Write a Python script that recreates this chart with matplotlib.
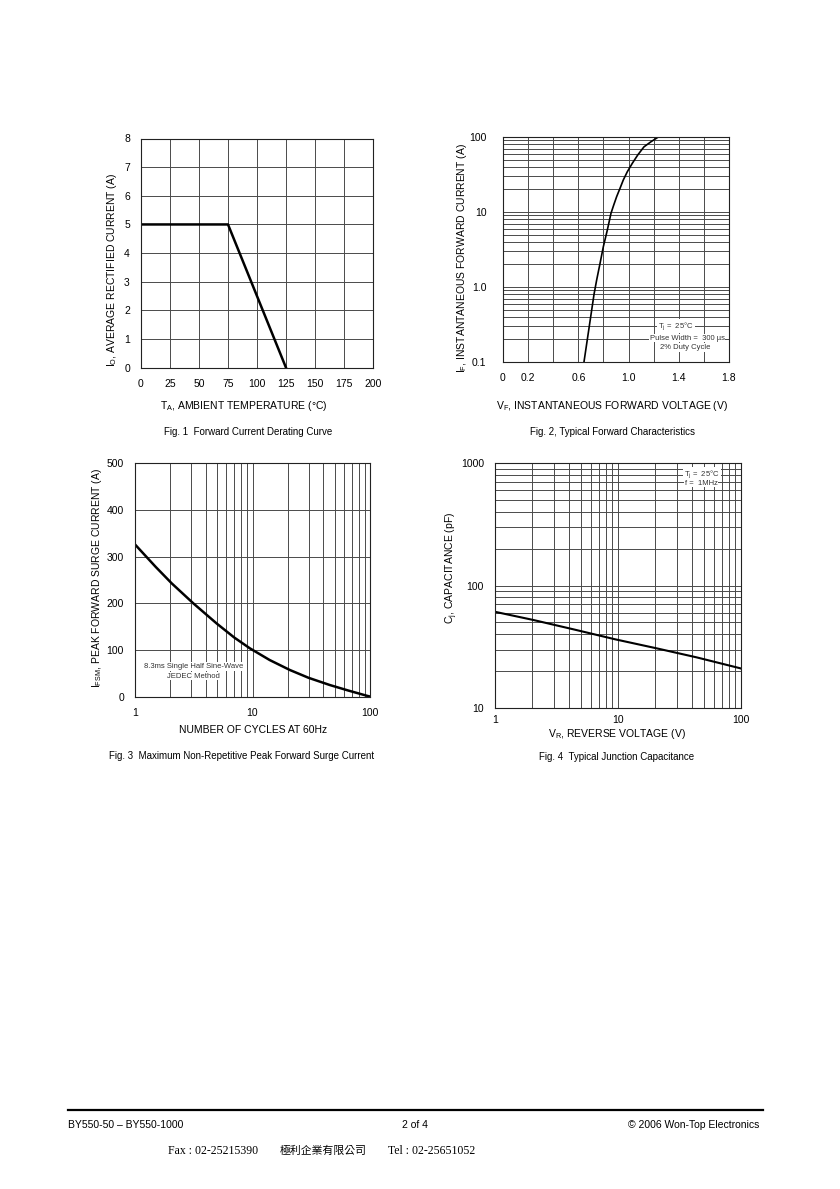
import matplotlib
matplotlib.use("Agg")
import matplotlib.pyplot as plt
from matplotlib.lines import Line2D
from matplotlib.ticker import FixedLocator, NullFormatter, LogLocator

plt.rcParams['font.family'] = ['Liberation Sans', 'DejaVu Sans']
plt.rcParams['mathtext.fontset'] = 'custom'
plt.rcParams['mathtext.rm'] = 'Liberation Sans'
plt.rcParams['mathtext.it'] = 'Liberation Sans'

# Fig. 1 derating curve
temp_c = [0, 75, 125]
io_amps = [5, 5, 0]
temp_ticks = [0, 25, 50, 75, 100, 125, 150, 175, 200]
io_ticks = [0, 1, 2, 3, 4, 5, 6, 7, 8]

# Fig. 2 forward characteristics
vf_volts = [0.645, 0.725, 0.746, 0.773, 0.799, 0.831, 0.860, 0.882, 0.905, 0.932,
            0.958, 0.990, 1.030, 1.073, 1.123, 1.179, 1.237]
if_amps = [0.1, 0.8, 1.24, 2.07, 3.44, 5.75, 9.6, 12.4, 16, 20.7,
           26.7, 34.4, 44.6, 57.5, 74, 86.5, 100]
vf_ticks = [0, 0.2, 0.6, 1.0, 1.4, 1.8]
vf_ticklabels = ['0', '0.2', '0.6', '1.0', '1.4', '1.8']
if_ticks = [0.1, 1.0, 10, 100]
if_ticklabels = ['0.1', '1.0', '10', '100']

# Fig. 3 surge current
cycles = [1, 1.5, 2.05, 3.14, 4.96, 7, 9.5, 14, 20.8, 30, 45.5, 65, 93.6, 100]
ifsm_amps = [326, 278, 243, 200, 157, 127, 104, 79, 57.7, 41, 25.6, 14, 2.8, 1.0]
ifsm_ticks = [0, 100, 200, 300, 400, 500]

# Fig. 4 junction capacitance
vr_volts = [1, 2.05, 4.33, 9.45, 20.6, 43.6, 98.6, 100]
cj_pf = [61, 52.3, 43.9, 36.4, 30.7, 25.9, 21.1, 21.0]

W, H = 840, 1189
fig = plt.figure(figsize=(W / 100, H / 100), dpi=100)


def box(l, t, r, b):
    return [l / W, 1 - b / H, (r - l) / W, (b - t) / H]


def ftext(x, y, s, **kw):
    kw.setdefault('fontsize', 7)
    kw.setdefault('ha', 'center')
    kw.setdefault('va', 'center')
    fig.text(x / W, 1 - y / H, s, **kw)


GRID = dict(color='#4a4a4a', linewidth=0.7)
LINE = dict(color='black', linewidth=1.8, solid_joinstyle='round')


def style(ax):
    for sp in ax.spines.values():
        sp.set_linewidth(0.8)
        sp.set_color('#222222')
    ax.tick_params(which='both', length=0, labelsize=7.5, pad=8)
    ax.set_axisbelow(True)


# ---- Fig 1
ax1 = fig.add_axes(box(141, 138.5, 373, 367.7))
ax1.plot(temp_c, io_amps, **LINE)
ax1.set_xlim(0, 200)
ax1.set_ylim(0, 8)
ax1.set_xticks(temp_ticks)
ax1.set_yticks(io_ticks)
ax1.grid(True, **GRID)
style(ax1)
ftext(244, 406, r'T$_\mathregular{A}$, AMBIENT TEMPERATURE (°C)', fontsize=7.5)
ftext(112, 270, r'I$_\mathregular{O}$, AVERAGE RECTIFIED CURRENT (A)', rotation=90, fontsize=7.5)
ftext(248, 432, 'Fig. 1  Forward Current Derating Curve')

# ---- Fig 2
ax2 = fig.add_axes(box(503, 137, 729, 362))
ax2.plot(vf_volts, if_amps, color='black', linewidth=1.2, solid_joinstyle='round')
ax2.set_yscale('log')
ax2.set_xlim(0, 1.8)
ax2.set_ylim(0.1, 100)
ax2.xaxis.set_major_locator(FixedLocator(vf_ticks))
ax2.set_xticklabels(vf_ticklabels)
ax2.xaxis.set_minor_locator(FixedLocator([0.4, 0.8, 1.2, 1.6]))
ax2.yaxis.set_major_locator(FixedLocator(if_ticks))
ax2.set_yticklabels(if_ticklabels)
ax2.yaxis.set_minor_locator(LogLocator(base=10, subs=range(2, 10)))
ax2.yaxis.set_minor_formatter(NullFormatter())
ax2.grid(True, which='both', **GRID)
style(ax2)
ax2.tick_params(axis='y', pad=12)
tb = dict(facecolor='white', edgecolor='none', pad=0.6)
ftext(676, 326, r'T$_\mathregular{j}$ =  25°C', fontsize=5.5, color='#333333', bbox=tb)
ftext(687, 338, 'Pulse Width =  300 µs', fontsize=5.5, color='#333333', bbox=tb)
ftext(685, 347.5, '2% Duty Cycle', fontsize=5.5, color='#333333', bbox=tb)
ftext(612, 406, r'V$_\mathregular{F}$, INSTANTANEOUS FORWARD VOLTAGE (V)', fontsize=7.5)
ftext(462, 258, r'I$_\mathregular{F}$, INSTANTANEOUS FORWARD CURRENT (A)', rotation=90, fontsize=7.5)
ftext(612, 432, 'Fig. 2, Typical Forward Characteristics')

# ---- Fig 3
ax3 = fig.add_axes(box(135, 463, 370, 697))
ax3.plot(cycles, ifsm_amps, **LINE)
ax3.set_xscale('log')
ax3.set_xlim(1, 100)
ax3.set_ylim(0, 500)
ax3.set_yticks(ifsm_ticks)
ax3.xaxis.set_major_locator(FixedLocator([1, 10, 100]))
ax3.set_xticklabels(['1', '10', '100'])
ax3.xaxis.set_minor_locator(LogLocator(base=10, subs=range(2, 10)))
ax3.xaxis.set_minor_formatter(NullFormatter())
ax3.grid(True, which='major', **GRID)
ax3.grid(True, which='minor', axis='x', **GRID)
style(ax3)
ftext(194, 666.5, '8.3ms Single Half Sine-Wave', fontsize=5.5, color='#333333', bbox=tb)
ftext(193, 676, 'JEDEC Method', fontsize=5.5, color='#333333', bbox=tb)
ftext(253, 730, 'NUMBER OF CYCLES AT 60Hz', fontsize=7.5)
ftext(97, 578, r'I$_\mathregular{FSM}$, PEAK FORWARD SURGE CURRENT (A)', rotation=90, fontsize=7.5)
ftext(242, 756, 'Fig. 3  Maximum Non-Repetitive Peak Forward Surge Current')

# ---- Fig 4
ax4 = fig.add_axes(box(495, 463, 741, 708))
ax4.plot(vr_volts, cj_pf, color='black', linewidth=1.5)
ax4.set_xscale('log')
ax4.set_yscale('log')
ax4.set_xlim(1, 100)
ax4.set_ylim(10, 1000)
ax4.xaxis.set_major_locator(FixedLocator([1, 10, 100]))
ax4.set_xticklabels(['1', '10', '100'])
ax4.yaxis.set_major_locator(FixedLocator([10, 100, 1000]))
ax4.set_yticklabels(['10', '100', '1000'])
for a in (ax4.xaxis, ax4.yaxis):
    a.set_minor_locator(LogLocator(base=10, subs=range(2, 10)))
    a.set_minor_formatter(NullFormatter())
ax4.grid(True, which='both', **GRID)
style(ax4)
ax4.tick_params(axis='x', pad=5)
ftext(702, 474, r'T$_\mathregular{j}$ =  25°C', fontsize=5.5, color='#333333', bbox=tb)
ftext(701, 483, 'f =  1MHz', fontsize=5.5, color='#333333', bbox=tb)
ftext(617, 734, r'V$_\mathregular{R}$, REVERSE VOLTAGE (V)', fontsize=7.5)
ftext(452, 568, r'C$_\mathregular{j}$, CAPACITANCE (pF)', rotation=90, fontsize=7.5)
ftext(617, 757, 'Fig. 4  Typical Junction Capacitance')

# ---- footer
fig.add_artist(Line2D([68 / W, 763 / W], [1 - 1110 / H, 1 - 1110 / H], color='black', linewidth=1.6))
ftext(68, 1125, 'BY550-50 – BY550-1000', ha='left', fontsize=7.5)
ftext(415, 1125, '2 of 4', fontsize=7.5)
ftext(759, 1125, '© 2006 Won-Top Electronics', ha='right', fontsize=7.5)
ftext(168, 1151, 'Fax : 02-25215390', ha='left', fontsize=8.5, family='Liberation Serif')
ftext(280, 1151, '極利企業有限公司', ha='left', fontsize=7.8, family=['Noto Sans CJK TC', 'DejaVu Sans'])
ftext(388, 1151, 'Tel : 02-25651052', ha='left', fontsize=8.5, family='Liberation Serif')

fig.savefig('out.png', dpi=100)
